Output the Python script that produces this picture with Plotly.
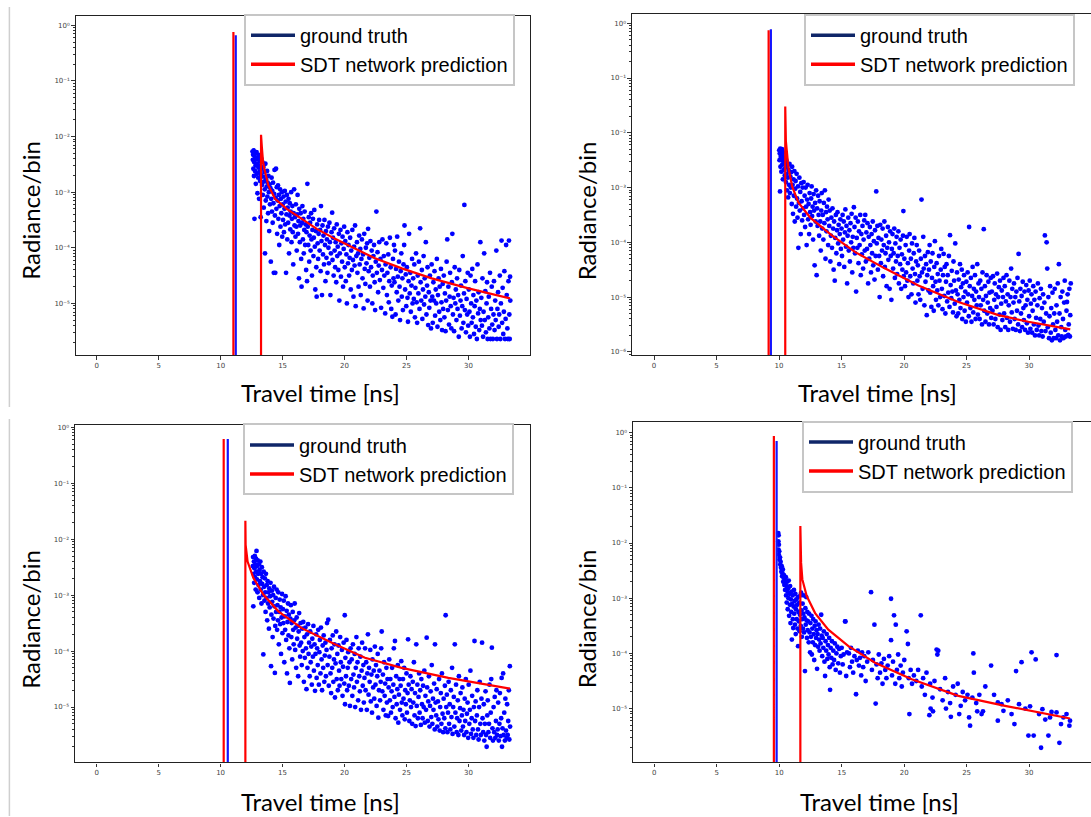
import plotly.graph_objects as go

# ---------------- data: (travel time [ns], log10 of radiance/bin) ----------------
# Panel 1 (top-left)
p1_measured = [
(12.57,-2.27),(12.6,-2.42),(12.62,-2.33),(12.64,-2.58),(12.67,-2.25),(12.69,-2.71),(12.7,-2.46),(12.73,-3.48),(12.75,-2.36),(12.77,-2.62),
(12.8,-2.3),(12.82,-2.52),(12.84,-2.85),(12.87,-2.41),(12.9,-2.28),(12.92,-2.67),(12.95,-2.49),(12.97,-3.02),(13.0,-2.38),(13.03,-2.74),
(13.05,-2.56),(13.08,-2.33),(13.1,-3.12),(13.13,-2.63),(13.15,-2.44),(13.18,-2.8),(13.2,-2.52),(13.23,-3.45),(13.25,-2.69),(13.28,-2.4),
(13.31,-2.58),(13.34,-2.87),(13.37,-2.46),(13.4,-3.05),(13.42,-2.72),(13.45,-2.55),(13.48,-3.28),(13.5,-2.81),(13.53,-2.64),(13.56,-2.95),
(13.58,-4.1),(13.61,-2.49),(13.64,-3.15),(13.66,-2.77),(13.69,-3.52),(13.72,-2.9),(13.75,-2.62),(13.77,-3.08),(13.8,-2.83),(13.83,-3.38),
(13.86,-2.71),(13.89,-3.0),(13.92,-3.7),(13.95,-2.86),(13.98,-3.22),
(14.02,-2.93),(14.05,-4.25),(14.08,-3.12),(14.11,-2.74),(14.14,-3.35),(14.17,-2.98),(14.2,-3.55),(14.23,-2.83),(14.26,-3.2),(14.29,-4.45),
(14.32,-3.03),(14.35,-2.6),(14.38,-3.42),(14.41,-4.45),(14.44,-3.1),(14.47,-2.58),(14.5,-3.3),(14.53,-2.91),(14.56,-3.75),(14.6,-3.15),
(14.63,-2.88),(14.66,-3.48),(14.7,-3.05),(14.73,-3.95),(14.76,-3.25),(14.8,-2.95),(14.83,-3.62),(14.87,-3.12),(14.9,-3.38),(14.94,-3.0),(14.97,-3.8),
(15.01,-3.22),(15.04,-3.5),(15.08,-3.08),(15.11,-3.72),(15.15,-3.3),(15.18,-2.98),(15.21,-3.58),(15.25,-3.17),(15.28,-4.45),(15.31,-3.4),
(15.35,-3.05),(15.38,-3.85),(15.41,-3.28),(15.45,-3.55),(15.48,-3.12),(15.52,-4.1),(15.55,-3.42),(15.58,-3.2),(15.62,-3.67),(15.65,-3.35),
(15.69,-3.0),(15.72,-3.9),(15.75,-3.48),(15.79,-3.25),(15.82,-3.72),(15.86,-4.3),(15.89,-3.38),(15.93,-2.95),(15.96,-3.6),
(16.0,-3.45),(16.04,-3.8),(16.07,-3.22),(16.11,-3.62),(16.14,-4.05),(16.18,-3.4),(16.21,-3.05),(16.25,-3.75),(16.28,-3.52),(16.32,-4.55),
(16.35,-3.3),(16.39,-3.9),(16.42,-3.6),(16.46,-3.38),(16.5,-4.2),(16.53,-4.7),(16.57,-3.55),(16.6,-3.25),(16.64,-3.85),(16.67,-3.48),
(16.71,-4.1),(16.75,-3.68),(16.78,-3.35),(16.82,-3.95),(16.86,-3.58),(16.9,-4.4),(16.93,-3.72),(16.97,-4.6),(17.0,-2.85),
(17.03,-3.62),(17.07,-3.95),(17.11,-3.45),(17.15,-4.25),(17.18,-3.78),(17.22,-3.55),(17.26,-4.05),(17.3,-3.38),(17.33,-3.85),(17.37,-4.5),
(17.41,-3.68),(17.45,-3.48),(17.49,-4.15),(17.52,-3.82),(17.56,-3.32),(17.6,-3.98),(17.64,-4.75),(17.68,-3.7),(17.72,-4.35),(17.75,-4.88),
(17.79,-3.58),(17.83,-3.92),(17.87,-4.2),(17.91,-3.75),(17.95,-3.5),
(17.99,-4.05),(18.03,-3.68),(18.07,-4.42),(18.1,-3.25),(18.14,-3.88),(18.18,-4.85),(18.22,-3.6),(18.26,-4.12),(18.3,-3.78),(18.34,-4.3),
(18.38,-3.5),(18.42,-3.95),(18.46,-4.6),(18.5,-3.7),(18.54,-4.18),(18.58,-3.85),(18.62,-4.45),(18.66,-3.62),(18.7,-4.0),(18.74,-4.28),
(18.78,-3.55),(18.82,-3.9),(18.86,-4.85),(18.9,-4.1),(18.95,-3.72),(19.0,-3.37),
(19.03,-4.22),(19.07,-3.82),(19.12,-4.5),(19.16,-3.65),(19.2,-4.05),(19.24,-4.35),(19.28,-3.9),(19.33,-4.62),(19.37,-3.58),(19.41,-4.15),
(19.45,-3.98),(19.5,-4.4),(19.54,-3.75),(19.58,-4.95),(19.62,-4.1),(19.67,-3.68),(19.71,-4.52),(19.75,-3.92),(19.8,-4.25),(19.84,-3.8),
(19.88,-4.7),(19.93,-4.02),(19.97,-3.62),
(20.02,-4.35),(20.06,-3.88),(20.1,-4.6),(20.15,-4.12),(20.19,-5.0),(20.23,-3.72),(20.28,-4.28),(20.32,-3.95),(20.37,-4.5),(20.41,-4.18),
(20.45,-3.82),(20.5,-4.75),(20.54,-4.05),(20.59,-4.4),(20.63,-3.68),(20.68,-4.22),(20.72,-4.88),(20.77,-3.98),(20.81,-4.32),(20.85,-3.6),
(20.9,-5.05),(20.95,-4.15),
(21.0,-3.9),(21.04,-4.45),(21.09,-4.1),(21.13,-4.7),(21.18,-3.78),(21.22,-4.3),(21.27,-4.02),(21.31,-4.85),(21.36,-4.2),(21.4,-3.85),
(21.45,-4.55),(21.5,-4.12),(21.54,-5.09),(21.59,-3.75),(21.63,-4.38),(21.68,-4.65),(21.72,-4.0),(21.77,-4.28),(21.82,-3.92),(21.86,-4.95),
(21.9,-3.66),(21.95,-4.42),
(22.0,-4.18),(22.05,-4.7),(22.09,-3.88),(22.14,-4.35),(22.19,-4.05),(22.24,-5.0),(22.28,-4.5),(22.33,-4.15),(22.38,-3.95),(22.43,-4.62),
(22.47,-5.12),(22.52,-4.25),(22.57,-3.35),(22.61,-4.45),(22.66,-4.08),(22.71,-4.8),(22.76,-4.32),(22.8,-3.9),(22.85,-4.58),(22.9,-4.2),(22.95,-5.08),
(23.02,-4.4),(23.06,-3.85),(23.13,-4.72),(23.17,-4.15),(23.21,-4.5),(23.28,-5.18),(23.31,-4.3),(23.37,-3.92),(23.42,-4.85),(23.46,-4.45),
(23.53,-4.12),(23.57,-4.98),(23.61,-4.6),(23.66,-3.82),(23.72,-4.35),(23.77,-5.1),(23.81,-4.68),(23.86,-5.24),(23.91,-4.2),(23.95,-4.55),(23.99,-3.95),
(24.03,-4.62),(24.07,-4.05),(24.12,-5.2),(24.16,-4.38),(24.21,-4.8),(24.25,-3.8),(24.3,-4.52),(24.34,-4.95),(24.39,-4.25),(24.44,-4.7),
(24.48,-5.3),(24.53,-4.42),(24.58,-4.1),(24.62,-4.88),(24.67,-4.55),(24.71,-5.12),(24.76,-4.3),(24.81,-3.95),(24.84,-3.6),(24.89,-4.75),
(24.94,-4.48),(24.98,-5.05),
(25.03,-4.35),(25.08,-4.9),(25.12,-5.33),(25.17,-4.6),(25.21,-3.75),(25.26,-4.82),(25.31,-4.45),(25.35,-5.15),(25.4,-4.68),(25.45,-4.2),
(25.49,-5.0),(25.54,-4.55),(25.59,-4.92),(25.63,-4.3),(25.68,-5.25),(25.72,-4.72),(25.77,-4.1),(25.82,-4.98),(25.86,-5.35),(25.91,-4.5),(25.96,-4.82),
(26.0,-4.25),(26.05,-5.1),(26.1,-3.65),(26.14,-4.62),(26.19,-4.95),(26.24,-4.4),(26.28,-5.28),(26.33,-4.75),(26.38,-4.15),(26.42,-5.02),
(26.47,-4.55),(26.52,-4.88),(26.56,-3.9),(26.61,-5.2),(26.66,-4.68),(26.7,-4.35),(26.75,-5.39),(26.8,-4.8),(26.84,-5.08),(26.89,-4.5),
(26.94,-4.95),(26.98,-5.45),
(27.03,-4.3),(27.08,-4.88),(27.12,-5.35),(27.17,-4.62),(27.22,-4.95),(27.26,-4.42),(27.31,-5.22),(27.36,-4.75),(27.4,-5.0),(27.45,-4.2),
(27.5,-5.42),(27.54,-4.85),(27.59,-4.55),(27.64,-5.15),(27.68,-4.7),(27.73,-5.3),(27.78,-4.38),(27.82,-4.98),(27.87,-5.48),(27.92,-4.65),(27.96,-5.1),
(28.01,-4.5),(28.06,-5.25),(28.1,-4.82),(28.15,-5.5),(28.2,-4.95),(28.24,-4.25),(28.29,-3.85),(28.34,-5.12),(28.38,-4.7),(28.43,-5.38),
(28.48,-4.88),(28.52,-4.45),(28.57,-5.05),(28.62,-5.45),(28.66,-4.62),(28.7,-3.75),(28.75,-5.2),(28.8,-4.9),(28.84,-5.5),(28.89,-4.35),
(28.94,-5.0),(28.98,-4.75),
(29.03,-5.3),(29.08,-4.55),(29.12,-5.1),(29.17,-4.85),(29.22,-5.6),(29.26,-4.4),(29.31,-5.22),(29.36,-4.95),(29.4,-4.68),(29.45,-5.45),
(29.5,-5.05),(29.54,-4.15),(29.59,-5.35),(29.64,-4.82),(29.67,-3.23),(29.71,-5.12),(29.75,-4.6),(29.8,-5.52),(29.85,-4.92),(29.9,-5.2),
(29.94,-4.45),(29.98,-5.4),
(30.03,-4.75),(30.08,-5.15),(30.12,-5.6),(30.17,-4.5),(30.22,-5.0),(30.26,-5.35),(30.31,-4.38),(30.36,-5.25),(30.4,-4.85),(30.45,-5.55),
(30.5,-5.05),(30.54,-4.6),(30.59,-5.42),(30.64,-4.95),(30.68,-5.64),(30.73,-4.3),(30.78,-5.18),(30.82,-4.8),(30.87,-5.48),(30.92,-5.1),
(30.96,-3.9),(30.99,-5.3),
(31.04,-4.9),(31.09,-5.4),(31.13,-4.55),(31.18,-5.6),(31.22,-5.15),(31.27,-4.1),(31.32,-5.3),(31.36,-4.78),(31.41,-5.52),(31.46,-5.0),
(31.5,-4.62),(31.55,-5.64),(31.6,-5.25),(31.64,-4.88),(31.69,-5.45),(31.74,-4.45),(31.78,-5.64),(31.83,-5.1),(31.88,-4.7),(31.92,-5.38),(31.97,-5.64),
(32.02,-5.2),(32.06,-4.6),(32.11,-5.48),(32.16,-4.95),(32.2,-5.3),(32.25,-4.05),(32.3,-5.64),(32.34,-5.1),(32.39,-4.8),(32.44,-5.42),
(32.48,-5.2),(32.53,-4.5),(32.58,-5.64),(32.62,-5.0),(32.67,-3.87),(32.72,-5.35),(32.76,-4.72),(32.81,-5.55),(32.86,-5.15),(32.9,-4.42),
(32.95,-5.64),(33.0,-5.28),(33.04,-3.95),(33.09,-4.85),(33.14,-5.45),(33.18,-5.64),(33.23,-4.6),(33.27,-3.87),(33.3,-5.2),(33.33,-5.64),
(33.36,-4.52),(33.38,-4.95),
]
p1_truth_t = [11.22, 11.22]
p1_truth_logr = [-9, -0.18]
p1_pred_t = [11.03, 11.03, 11.03, 13.26, 13.26, 13.33, 13.42, 13.53, 13.85, 14.39, 15.33, 16.55, 17.76, 19.23, 20.85, 22.46, 24.62, 27.04, 30.0, 33.36]
p1_pred_logr = [-9, -0.12, -9, -9, -1.97, -2.2, -2.45, -2.58, -2.88, -3.12, -3.30, -3.48, -3.66, -3.84, -4.01, -4.19, -4.37, -4.55, -4.73, -4.91]

# Panel 2 (top-right)
p2_measured = [
(10.02,-2.32),(10.04,-2.5),(10.06,-2.38),(10.08,-3.07),(10.1,-2.29),(10.12,-2.62),(10.14,-2.44),(10.17,-2.35),(10.19,-2.71),(10.21,-2.48),
(10.24,-2.3),(10.26,-2.58),(10.29,-2.42),(10.31,-2.85),(10.34,-2.52),(10.37,-2.36),(10.4,-2.68),(10.43,-2.47),(10.46,-2.78),(10.49,-2.55),
(10.52,-2.63),(10.55,-2.9),(10.58,-2.5),(10.61,-2.75),(10.64,-3.05),(10.67,-2.6),(10.7,-2.82),(10.73,-3.18),(10.77,-2.68),(10.8,-2.95),
(10.84,-2.57),(10.87,-3.1),(10.91,-2.8),(10.95,-3.0),(10.98,-2.72),
(11.02,-3.3),(11.05,-2.62),(11.09,-2.95),(11.12,-3.48),(11.16,-2.85),(11.19,-3.15),(11.23,-2.7),(11.26,-3.62),(11.3,-3.02),(11.33,-2.88),
(11.37,-3.35),(11.41,-2.75),(11.44,-3.2),(11.48,-3.55),(11.52,-2.98),(11.55,-4.1),(11.59,-3.28),(11.63,-2.82),(11.66,-3.42),(11.7,-3.08),
(11.74,-3.85),(11.78,-2.92),(11.81,-3.25),(11.85,-3.6),(11.89,-3.0),(11.93,-3.38),(11.97,-2.9),
(12.01,-3.5),(12.05,-3.15),(12.09,-3.72),(12.13,-3.0),(12.17,-3.35),(12.21,-4.05),(12.25,-3.22),(12.29,-2.95),(12.33,-3.58),(12.37,-3.3),
(12.41,-3.85),(12.45,-3.1),(12.49,-3.45),(12.53,-3.68),(12.57,-3.2),(12.61,-2.98),(12.65,-3.52),(12.69,-3.35),(12.73,-3.95),(12.77,-3.12),
(12.81,-3.42),(12.85,-4.42),(12.89,-3.28),(12.93,-3.62),(12.97,-3.05),
(13.01,-4.6),(13.05,-3.38),(13.09,-3.7),(13.13,-3.15),(13.17,-3.5),(13.21,-3.88),(13.25,-3.25),(13.3,-3.62),(13.34,-4.15),(13.38,-3.42),
(13.42,-3.1),(13.46,-3.75),(13.5,-3.5),(13.55,-3.95),(13.59,-3.28),(13.63,-3.65),(13.67,-3.05),(13.72,-4.3),(13.76,-3.45),(13.8,-3.8),
(13.84,-3.35),(13.89,-3.58),(13.93,-4.05),(13.97,-3.22),
(14.02,-3.7),(14.06,-3.42),(14.11,-4.35),(14.15,-3.88),(14.19,-3.55),(14.24,-4.1),(14.28,-3.38),(14.33,-3.75),(14.37,-4.5),(14.41,-3.62),
(14.46,-4.7),(14.5,-3.92),(14.55,-3.5),(14.59,-4.2),(14.64,-3.78),(14.68,-3.45),(14.73,-4.02),(14.77,-3.68),(14.82,-4.4),(14.86,-3.85),
(14.91,-3.58),(14.95,-4.12),
(15.0,-3.75),(15.04,-4.25),(15.09,-3.5),(15.13,-3.95),(15.18,-3.62),(15.22,-4.45),(15.27,-3.82),(15.31,-3.4),(15.36,-4.08),(15.4,-3.7),
(15.45,-4.75),(15.49,-3.88),(15.54,-3.55),(15.58,-4.15),(15.63,-3.78),(15.67,-4.35),(15.72,-3.65),(15.77,-4.0),(15.81,-3.48),(15.86,-4.55),
(15.9,-3.9),(15.95,-4.1),(15.99,-3.36),
(16.04,-3.72),(16.08,-4.2),(16.13,-3.55),(16.17,-4.9),(16.22,-3.92),(16.27,-4.1),(16.31,-3.62),(16.36,-4.38),(16.4,-3.8),(16.45,-4.05),
(16.5,-3.5),(16.54,-4.6),(16.59,-3.85),(16.63,-4.22),(16.68,-3.7),(16.73,-4.48),(16.77,-3.95),(16.82,-3.6),(16.86,-4.15),(16.9,-3.5),
(16.95,-4.35),(16.99,-3.82),
(17.04,-4.12),(17.08,-3.65),(17.13,-4.75),(17.18,-3.9),(17.22,-4.3),(17.27,-3.72),(17.31,-4.05),(17.36,-4.55),(17.41,-3.85),(17.45,-4.2),
(17.5,-3.62),(17.54,-4.42),(17.59,-3.98),(17.64,-4.68),(17.68,-3.78),(17.73,-4.25),(17.78,-3.07),(17.82,-4.02),(17.87,-3.7),(17.91,-4.5),(17.96,-3.92),
(18.01,-4.25),(18.05,-5.0),(18.1,-3.68),(18.15,-4.38),(18.19,-3.95),(18.24,-4.15),(18.29,-3.75),(18.33,-4.62),(18.38,-4.05),(18.43,-3.62),
(18.47,-4.45),(18.52,-4.2),(18.57,-3.88),(18.61,-4.8),(18.66,-4.1),(18.71,-3.72),(18.75,-4.32),(18.8,-4.0),(18.85,-4.85),(18.89,-3.8),
(18.94,-4.25),(18.99,-5.05),
(19.03,-4.12),(19.08,-3.85),(19.13,-4.48),(19.17,-4.2),(19.22,-3.75),(19.27,-4.65),(19.31,-4.02),(19.36,-4.35),(19.41,-3.9),(19.45,-4.58),
(19.5,-4.25),(19.55,-3.8),(19.59,-4.75),(19.64,-4.1),(19.69,-4.4),(19.73,-3.95),(19.78,-4.85),(19.83,-4.22),(19.87,-4.5),(19.92,-3.88),
(19.95,-3.43),(19.98,-4.62),
(20.03,-4.3),(20.08,-4.8),(20.13,-4.05),(20.17,-4.55),(20.22,-3.9),(20.27,-4.7),(20.31,-4.38),(20.36,-5.0),(20.41,-4.15),(20.45,-3.85),
(20.5,-4.62),(20.55,-4.3),(20.6,-4.95),(20.64,-4.02),(20.69,-4.48),(20.74,-4.75),(20.78,-4.2),(20.83,-3.92),(20.88,-4.58),(20.92,-5.1),(20.97,-4.35),
(21.02,-4.05),(21.07,-4.7),(21.11,-4.42),(21.16,-4.95),(21.21,-4.15),(21.25,-4.62),(21.3,-5.05),(21.35,-4.3),(21.4,-3.22),(21.44,-4.55),
(21.49,-4.85),(21.54,-3.9),(21.58,-4.48),(21.63,-5.15),(21.68,-4.25),(21.72,-4.72),(21.77,-4.4),(21.82,-5.33),(21.86,-4.6),(21.91,-4.18),(21.96,-4.88),
(22.0,-4.5),(22.05,-4.05),(22.1,-4.92),(22.14,-4.35),(22.19,-5.18),(22.24,-4.65),(22.28,-4.2),(22.33,-4.8),(22.38,-5.25),(22.42,-4.45),
(22.47,-3.98),(22.52,-4.72),(22.56,-5.05),(22.61,-4.38),(22.66,-4.88),(22.7,-4.58),(22.75,-5.15),(22.8,-4.25),(22.84,-4.7),(22.89,-5.0),
(22.94,-4.5),(22.98,-4.12),
(23.03,-4.85),(23.08,-5.22),(23.12,-4.6),(23.17,-4.21),(23.22,-4.98),(23.26,-4.45),(23.31,-5.3),(23.36,-4.72),(23.4,-4.4),(23.45,-5.08),
(23.5,-4.6),(23.54,-4.92),(23.59,-4.25),(23.64,-5.18),(23.68,-3.87),(23.73,-4.78),(23.78,-5.02),(23.82,-4.52),(23.87,-4.9),(23.92,-5.28),(23.96,-4.35),
(24.01,-4.7),(24.06,-5.12),(24.1,-4.02),(24.15,-4.88),(24.2,-5.35),(24.24,-4.55),(24.29,-4.95),(24.34,-5.3),(24.38,-4.68),(24.43,-5.05),
(24.48,-4.4),(24.52,-5.2),(24.57,-4.82),(24.62,-4.5),(24.66,-5.4),(24.71,-4.75),(24.76,-5.0),(24.8,-4.6),(24.85,-5.25),(24.9,-4.9),
(24.95,-5.45),(24.99,-4.72),
(25.04,-5.1),(25.09,-4.55),(25.13,-4.95),(25.18,-5.35),(25.21,-3.72),(25.26,-4.8),(25.31,-5.2),(25.35,-4.65),(25.4,-5.45),(25.45,-4.98),
(25.49,-4.45),(25.54,-5.28),(25.59,-4.85),(25.63,-5.05),(25.68,-4.6),(25.73,-5.4),(25.77,-4.9),(25.82,-5.15),(25.86,-4.4),(25.91,-5.32),(25.96,-4.75),
(26.0,-5.0),(26.05,-5.4),(26.1,-4.7),(26.14,-5.15),(26.19,-4.85),(26.24,-5.5),(26.28,-4.55),(26.33,-5.05),(26.38,-3.76),(26.42,-5.25),
(26.47,-4.8),(26.52,-5.45),(26.56,-4.98),(26.61,-4.6),(26.66,-5.3),(26.7,-5.1),(26.75,-4.72),(26.8,-5.5),(26.84,-4.92),(26.89,-5.2),
(26.94,-4.65),(26.98,-5.38),
(27.03,-4.9),(27.08,-5.25),(27.12,-4.62),(27.17,-5.5),(27.22,-5.05),(27.26,-4.75),(27.31,-5.4),(27.36,-4.95),(27.4,-5.18),(27.45,-4.57),
(27.5,-5.55),(27.54,-5.0),(27.59,-4.82),(27.64,-5.32),(27.68,-4.7),(27.73,-5.6),(27.78,-5.12),(27.82,-4.88),(27.87,-5.42),(27.92,-5.0),(27.96,-4.65),
(28.01,-5.3),(28.06,-4.8),(28.1,-5.55),(28.15,-5.08),(28.2,-4.6),(28.24,-5.38),(28.29,-4.95),(28.34,-5.6),(28.38,-5.15),(28.43,-4.7),
(28.48,-5.45),(28.52,-5.0),(28.57,-4.48),(28.62,-5.28),(28.66,-4.85),(28.71,-5.58),(28.76,-5.1),(28.8,-4.75),(28.85,-5.4),(28.9,-5.0),
(28.94,-5.6),(28.99,-4.9),
(29.04,-5.25),(29.08,-4.65),(29.13,-5.5),(29.17,-4.21),(29.22,-5.08),(29.27,-5.62),(29.31,-4.85),(29.36,-5.3),(29.41,-4.98),(29.45,-5.55),
(29.5,-4.72),(29.55,-5.2),(29.59,-5.42),(29.64,-4.9),(29.69,-5.6),(29.73,-5.15),(29.78,-4.78),(29.83,-5.48),(29.87,-5.05),(29.92,-5.65),(29.97,-4.88),
(30.01,-5.35),(30.06,-4.7),(30.11,-5.58),(30.15,-5.12),(30.2,-4.95),(30.25,-5.65),(30.29,-5.25),(30.34,-4.8),(30.39,-5.5),(30.43,-5.05),
(30.48,-5.7),(30.53,-4.9),(30.57,-5.38),(30.62,-5.6),(30.67,-5.15),(30.71,-4.75),(30.76,-5.52),(30.81,-5.7),(30.85,-5.02),(30.9,-5.4),
(30.95,-4.85),(30.99,-5.62),
(31.04,-5.2),(31.09,-5.72),(31.13,-4.95),(31.18,-5.45),(31.23,-5.1),(31.27,-3.875),(31.32,-5.62),(31.37,-5.3),(31.41,-4.0),(31.46,-4.48),
(31.5,-5.55),(31.55,-5.0),(31.6,-5.75),(31.64,-5.35),(31.69,-4.8),(31.74,-5.65),(31.78,-5.2),(31.83,-5.79),(31.88,-4.92),(31.92,-5.5),(31.97,-5.75),
(32.02,-5.3),(32.06,-4.85),(32.11,-5.6),(32.16,-5.75),(32.2,-5.15),(32.25,-5.45),(32.3,-4.75),(32.34,-5.7),(32.39,-4.4),(32.44,-5.3),
(32.48,-5.79),(32.53,-5.0),(32.58,-5.55),(32.62,-5.72),(32.67,-4.9),(32.72,-5.4),(32.76,-5.75),(32.81,-5.1),(32.86,-4.7),(32.9,-5.6),
(32.95,-5.72),(33.0,-5.25),(33.04,-5.09),(33.09,-4.95),(33.14,-5.69),(33.18,-5.5),(33.23,-4.85),(33.27,-5.72),(33.3,-5.33),(33.34,-4.75),
]
p2_truth_t = [9.35, 9.35]
p2_truth_logr = [-9, -0.11]
p2_pred_t = [9.17, 9.17, 9.17, 10.5, 10.5, 10.55, 10.75, 11.05, 11.55, 12.5, 14.2, 16.1, 18.5, 21.15, 24.35, 27.55, 29.95, 33.3]
p2_pred_logr = [-9, -0.13, -9, -9, -1.52, -2.15, -2.63, -2.98, -3.27, -3.55, -3.87, -4.18, -4.48, -4.79, -5.09, -5.33, -5.45, -5.59]

# Panel 3 (bottom-left)
p3_measured = [
(12.6,-2.48),(12.62,-2.32),(12.64,-3.2),(12.66,-2.62),(12.69,-2.4),(12.71,-2.78),(12.73,-2.52),(12.76,-2.3),(12.78,-2.68),(12.81,-2.45),
(12.83,-2.9),(12.86,-2.35),(12.88,-2.58),(12.9,-2.21),(12.93,-2.72),(12.95,-2.48),(12.98,-2.95),(13.0,-2.38),(13.03,-2.62),(13.06,-2.82),
(13.09,-2.45),(13.12,-3.05),(13.15,-2.55),(13.18,-2.75),(13.21,-2.4),(13.24,-2.9),(13.27,-2.62),(13.3,-3.15),(13.33,-2.5),(13.36,-2.8),
(13.39,-2.68),(13.42,-3.0),(13.45,-4.06),(13.48,-2.58),
(13.51,-2.85),(13.54,-3.1),(13.57,-2.7),(13.6,-2.95),(13.63,-3.3),(13.66,-2.62),(13.7,-3.05),(13.73,-2.82),(13.76,-3.45),(13.8,-2.75),
(13.83,-3.15),(13.86,-2.95),(13.9,-3.6),(13.93,-2.88),(13.96,-3.22),(14.0,-3.02),(14.03,-2.78),(14.07,-4.27),(14.1,-3.35),(14.14,-2.92),
(14.17,-3.12),(14.2,-3.75),(14.24,-3.0),(14.27,-3.42),(14.31,-2.85),(14.34,-3.2),(14.38,-4.39),(14.41,-3.55),(14.45,-3.05),(14.48,-3.3),
(14.52,-2.9),(14.56,-3.62),(14.59,-3.18),(14.63,-3.45),(14.66,-2.95),(14.7,-3.88),(14.74,-3.3),(14.77,-3.08),(14.81,-3.52),(14.85,-3.22),
(14.88,-4.05),(14.92,-3.4),(14.96,-2.98),(14.99,-3.68),(15.03,-3.25),(15.07,-3.5),(15.1,-3.1),(15.14,-4.2),(15.18,-3.38),(15.21,-3.62),
(15.25,-3.02),(15.29,-3.8),(15.33,-3.28),(15.36,-4.4),(15.4,-3.48),(15.44,-3.15),(15.48,-3.72),
(15.51,-3.35),(15.55,-3.95),(15.59,-4.57),(15.63,-3.42),(15.67,-3.18),(15.71,-3.75),(15.74,-3.5),(15.78,-4.15),(15.82,-3.3),(15.86,-3.62),
(15.9,-3.88),(15.94,-3.45),(15.98,-3.15),(16.02,-3.98),(16.06,-3.58),(16.1,-4.3),(16.14,-3.4),(16.18,-3.78),(16.22,-3.55),(16.26,-4.45),
(16.3,-3.65),(16.34,-3.32),(16.38,-3.9),(16.42,-4.1),(16.46,-3.5),
(16.5,-3.85),(16.55,-4.25),(16.59,-3.6),(16.63,-4.0),(16.67,-3.48),(16.72,-4.55),(16.76,-3.75),(16.8,-4.12),(16.84,-3.58),(16.89,-3.95),
(16.93,-4.68),(16.97,-3.7),(17.01,-4.3),(17.06,-3.52),(17.1,-4.05),(17.14,-3.85),(17.19,-4.45),(17.23,-3.65),(17.27,-4.2),(17.32,-3.92),
(17.36,-4.6),(17.4,-3.78),(17.45,-4.1),
(17.49,-3.55),(17.53,-4.35),(17.58,-3.88),(17.62,-4.71),(17.66,-4.05),(17.71,-3.7),(17.75,-4.48),(17.79,-3.95),(17.84,-4.25),(17.88,-3.62),
(17.93,-4.6),(17.97,-4.02),(18.01,-3.8),(18.06,-4.4),(18.1,-3.58),(18.15,-4.15),(18.19,-4.7),(18.24,-3.9),(18.28,-4.3),(18.32,-3.72),
(18.37,-4.55),(18.41,-4.08),(18.46,-3.85),
(18.5,-4.45),(18.55,-3.98),(18.59,-3.5),(18.64,-4.25),(18.69,-3.44),(18.73,-4.62),(18.78,-4.1),(18.82,-3.8),(18.87,-4.4),(18.92,-4.75),
(18.96,-3.95),(19.01,-4.3),(19.05,-3.72),(19.1,-4.55),(19.15,-4.15),(19.19,-3.88),(19.23,-4.83),(19.28,-4.22),(19.33,-3.65),(19.37,-4.5),
(19.42,-4.05),(19.46,-4.7),
(19.51,-3.9),(19.56,-4.35),(19.6,-4.62),(19.65,-3.75),(19.7,-4.2),(19.74,-4.5),(19.79,-3.98),(19.84,-4.8),(19.88,-4.28),(19.93,-3.85),
(19.98,-4.58),(20.02,-3.36),(20.04,-4.95),(20.07,-4.12),(20.12,-4.45),(20.16,-3.8),(20.21,-4.7),(20.26,-4.3),(20.3,-4.02),(20.35,-4.62),
(20.4,-4.2),(20.44,-4.98),(20.49,-3.95),
(20.54,-4.5),(20.58,-4.15),(20.63,-4.8),(20.68,-3.88),(20.72,-4.42),(20.77,-4.65),(20.82,-4.05),(20.86,-5.0),(20.91,-4.3),(20.96,-3.75),
(21.0,-4.55),(21.05,-4.2),(21.1,-4.88),(21.14,-3.95),(21.19,-4.45),(21.24,-4.72),(21.28,-4.1),(21.33,-5.05),(21.38,-4.35),(21.42,-3.85),(21.47,-4.62),
(21.52,-4.25),(21.56,-4.92),(21.61,-4.48),(21.66,-3.95),(21.7,-4.7),(21.75,-4.2),(21.8,-5.05),(21.84,-4.4),(21.89,-3.7),(21.94,-4.78),
(21.98,-4.3),(22.03,-4.55),(22.08,-3.98),(22.12,-4.9),(22.17,-4.42),(22.22,-5.1),(22.26,-4.15),(22.31,-4.65),(22.36,-4.35),(22.4,-4.85),(22.45,-3.92),
(22.5,-4.6),(22.54,-4.25),(22.59,-4.98),(22.64,-4.45),(22.68,-4.05),(22.73,-5.19),(22.78,-4.7),(22.82,-4.35),(22.87,-4.88),(22.92,-4.55),
(22.96,-3.95),(23.0,-3.65),(23.05,-4.72),(23.1,-4.42),(23.14,-5.05),(23.19,-4.2),(23.24,-4.8),(23.28,-4.58),(23.33,-5.15),(23.38,-4.3),
(23.42,-4.92),(23.47,-4.5),
(23.52,-5.16),(23.56,-4.65),(23.61,-4.15),(23.66,-4.88),(23.7,-4.5),(23.75,-5.1),(23.8,-4.72),(23.84,-4.3),(23.89,-5.0),(23.94,-4.6),
(23.98,-3.95),(24.03,-4.82),(24.07,-3.82),(24.12,-5.2),(24.17,-4.45),(24.21,-4.95),(24.26,-4.68),(24.3,-4.25),(24.34,-5.28),(24.39,-4.78),
(24.44,-4.5),(24.48,-5.05),
(24.53,-4.62),(24.58,-4.18),(24.62,-4.92),(24.67,-5.15),(24.72,-4.5),(24.76,-4.85),(24.81,-4.3),(24.86,-5.22),(24.9,-4.7),(24.95,-4.95),
(25.0,-4.4),(25.04,-5.1),(25.09,-4.75),(25.13,-3.79),(25.18,-4.6),(25.23,-5.25),(25.27,-4.88),(25.32,-4.45),(25.37,-5.0),(25.41,-4.68),(25.46,-5.3),
(25.51,-4.55),(25.55,-4.92),(25.6,-4.2),(25.65,-5.15),(25.69,-4.75),(25.74,-5.34),(25.79,-3.88),(25.83,-4.98),(25.88,-4.6),(25.92,-5.2),
(25.97,-4.82),(26.02,-4.4),(26.06,-5.1),(26.11,-4.7),(26.16,-5.32),(26.2,-4.5),(26.25,-4.95),(26.3,-5.2),(26.34,-4.62),(26.39,-5.0),
(26.44,-4.35),(26.48,-5.28),
(26.53,-4.8),(26.58,-5.05),(26.63,-3.76),(26.67,-4.65),(26.72,-5.25),(26.76,-4.9),(26.81,-4.45),(26.86,-5.35),(26.9,-4.98),(26.95,-4.72),
(27.0,-5.18),(27.04,-4.25),(27.09,-5.3),(27.14,-4.85),(27.18,-5.05),(27.23,-4.58),(27.28,-5.4),(27.3,-3.88),(27.35,-4.92),(27.4,-5.15),
(27.44,-4.68),(27.49,-5.35),
(27.54,-4.9),(27.58,-5.22),(27.63,-4.5),(27.68,-5.42),(27.72,-5.0),(27.77,-4.75),(27.82,-5.3),(27.86,-4.4),(27.91,-5.12),(27.96,-5.45),
(28.0,-4.85),(28.05,-5.2),(28.1,-4.62),(28.14,-5.38),(28.16,-3.36),(28.21,-5.0),(28.26,-4.78),(28.3,-5.45),(28.35,-5.1),(28.4,-4.55),
(28.44,-5.3),(28.49,-4.95),
(28.54,-5.4),(28.58,-4.7),(28.63,-5.18),(28.68,-4.3),(28.72,-5.48),(28.77,-5.0),(28.82,-4.82),(28.86,-5.35),(28.9,-3.88),(28.95,-5.1),
(29.0,-4.6),(29.05,-5.45),(29.09,-5.2),(29.14,-4.88),(29.19,-5.5),(29.23,-4.45),(29.28,-5.25),(29.33,-5.02),(29.37,-4.75),(29.42,-5.42),(29.47,-5.15),
(29.51,-4.65),(29.56,-5.35),(29.6,-5.05),(29.65,-5.5),(29.7,-4.85),(29.74,-5.25),(29.79,-4.5),(29.84,-5.45),(29.88,-5.12),(29.93,-4.92),
(29.98,-5.55),(30.02,-4.6),(30.07,-5.3),(30.12,-5.05),(30.16,-4.35),(30.21,-5.48),(30.26,-5.2),(30.3,-4.8),(30.35,-5.4),(30.4,-5.55),
(30.44,-5.0),(30.49,-3.82),
(30.54,-5.25),(30.58,-4.9),(30.63,-5.5),(30.68,-5.15),(30.72,-4.7),(30.77,-5.4),(30.82,-5.58),(30.86,-5.0),(30.91,-4.55),(30.96,-5.3),
(31.0,-5.5),(31.05,-4.85),(31.1,-3.85),(31.14,-5.2),(31.19,-5.45),(31.24,-4.95),(31.28,-5.6),(31.33,-5.3),(31.38,-4.72),(31.42,-5.5),(31.47,-5.71),
(31.52,-5.15),(31.56,-4.88),(31.61,-5.45),(31.66,-5.3),(31.7,-4.6),(31.75,-5.55),(31.8,-5.1),(31.84,-4.5),(31.89,-3.94),(31.94,-5.38),
(31.98,-5.6),(32.03,-5.0),(32.08,-5.45),(32.12,-4.82),(32.17,-5.55),(32.22,-5.25),(32.26,-4.7),(32.31,-5.5),(32.36,-5.4),(32.4,-4.92),(32.45,-5.6),
(32.5,-5.3),(32.54,-4.75),(32.59,-5.52),(32.64,-5.2),(32.68,-4.48),(32.71,-5.71),(32.75,-5.38),(32.8,-4.4),(32.84,-5.5),(32.89,-5.1),
(32.94,-5.6),(32.98,-4.85),(33.03,-5.42),(33.08,-5.55),(33.12,-4.95),(33.17,-5.5),(33.21,-5.25),(33.26,-4.7),(33.3,-5.58),(33.34,-4.27),(33.36,-5.35),
]
p3_truth_t = [10.58, 10.58]
p3_truth_logr = [-9, -0.21]
p3_pred_t = [10.25, 10.25, 10.25, 12.0, 12.0, 12.02, 12.18, 12.64, 13.45, 14.66, 16.54, 19.23, 21.65, 24.61, 28.38, 33.35]
p3_pred_logr = [-9, -0.21, -9, -9, -1.67, -2.1, -2.40, -2.69, -2.99, -3.29, -3.59, -3.88, -4.12, -4.30, -4.48, -4.67]

# Panel 4 (bottom-right)
p4_measured = [
(9.92,-1.82),(9.95,-1.86),(9.93,-1.97),(9.97,-2.03),(9.94,-2.12),(9.96,-2.21),(10.0,-2.15),(10.03,-2.3),(10.06,-2.26),(10.08,-2.39),
(10.11,-2.34),(10.14,-2.45),(10.17,-2.52),(10.2,-2.42),(10.23,-2.6),(10.26,-2.55),(10.29,-2.48),(10.32,-2.7),(10.35,-2.63),(10.38,-2.58),
(10.41,-2.76),(10.44,-2.68),(10.47,-2.85),(10.5,-2.72),
(10.53,-2.62),(10.55,-2.95),(10.58,-2.78),(10.6,-3.08),(10.63,-2.7),(10.66,-2.88),(10.68,-3.2),(10.71,-2.82),(10.74,-3.0),(10.76,-2.68),
(10.79,-3.32),(10.82,-2.92),(10.85,-3.12),(10.87,-2.78),(10.9,-3.45),(10.93,-3.02),(10.96,-3.25),(10.98,-2.88),(11.01,-3.75),(11.04,-3.1),
(11.07,-2.95),(11.09,-3.38),(11.12,-3.54),(11.15,-3.15),(11.18,-2.85),(11.2,-3.28),(11.23,-3.05),(11.26,-3.48),(11.29,-2.92),(11.32,-3.65),
(11.34,-3.2),(11.37,-3.02),(11.4,-3.38),(11.43,-3.12),(11.46,-3.55),(11.49,-2.98),(11.51,-3.87),(11.54,-3.25),(11.57,-3.42),(11.6,-3.08),
(11.63,-3.6),(11.66,-3.3),(11.69,-2.95),(11.72,-3.5),(11.75,-2.9),(11.78,-3.22),(11.81,-3.7),(11.84,-3.38),(11.87,-3.1),(11.9,-3.55),
(11.93,-3.28),(11.96,-2.95),(11.99,-3.62),(12.02,-3.35),(12.06,-4.32),(12.09,-3.18),(12.12,-3.48),(12.16,-2.98),(12.19,-3.4),(12.22,-3.72),
(12.25,-3.25),(12.28,-3.58),
(12.32,-3.42),(12.36,-3.8),(12.39,-3.28),(12.43,-3.62),(12.47,-3.98),(12.5,-3.45),(12.54,-3.7),(12.58,-3.32),(12.61,-4.02),(12.65,-3.55),
(12.69,-3.8),(12.72,-3.38),(12.76,-3.65),(12.8,-4.12),(12.84,-3.5),(12.87,-3.85),(12.91,-3.42),(12.95,-3.72),(12.99,-3.58),(13.03,-4.28),
(13.07,-3.65),(13.11,-3.88),(13.15,-3.48),(13.19,-3.75),(13.23,-3.95),(13.27,-3.55),(13.31,-3.82),(13.36,-3.3),(13.4,-3.68),(13.44,-4.05),
(13.48,-3.72),(13.53,-3.9),(13.57,-3.6),(13.62,-4.15),(13.67,-4.41),(13.71,-3.78),(13.76,-3.95),(13.8,-3.65),(13.85,-4.1),(13.9,-3.85),
(13.95,-4.02),(14.0,-3.72),(14.04,-4.25),(14.07,-4.66),(14.12,-3.9),(14.17,-4.08),(14.22,-3.78),(14.27,-4.2),(14.33,-3.95),(14.39,-4.12),
(14.45,-3.82),(14.52,-4.3),(14.58,-4.0),(14.65,-3.88),(14.72,-4.18),(14.79,-3.92),(14.86,-4.35),(14.93,-4.05),(15.0,-3.9),(15.08,-4.2),
(15.15,-4.02),(15.27,-3.42),(15.3,-3.42),(15.36,-4.41),(15.43,-3.98),
(15.58,-4.0),(15.66,-4.25),(15.74,-3.9),(15.83,-4.15),(15.92,-4.35),(16.02,-4.05),(16.15,-4.74),(16.21,-4.12),(16.29,-3.95),(16.38,-4.22),
(16.47,-4.08),(16.56,-4.4),(16.63,-3.98),(16.72,-4.25),(16.81,-4.05),(16.92,-4.5),(17.04,-4.15),(17.13,-3.98),(17.35,-2.89),(17.42,-4.3),
(17.5,-4.12),(17.62,-3.48),(17.72,-4.91),(17.79,-4.2),(17.88,-4.45),(17.97,-4.02),(18.07,-4.35),(18.18,-4.18),(18.27,-4.55),(18.38,-4.1),
(18.49,-4.3),(18.58,-4.45),(18.68,-4.22),(18.8,-4.05),(18.95,-3.01),(18.95,-3.76),(19.03,-4.4),(19.11,-4.15),(19.19,-3.31),(19.33,-3.48),
(19.29,-4.55),(19.42,-4.3),(19.52,-4.02),(19.61,-4.45),(19.72,-4.22),(19.81,-4.6),(19.9,-4.35),(20.01,-4.12),(20.2,-3.6),(20.3,-3.83),
(20.37,-4.45),(20.42,-5.1),(20.52,-4.3),(20.63,-4.55),(20.78,-4.4),
(20.97,-4.5),(21.12,-4.3),(21.33,-3.31),(21.41,-4.6),(21.52,-4.45),(21.66,-4.75),(21.79,-4.35),(22.02,-5.12),(22.08,-4.55),(22.12,-5.0),
(22.27,-4.8),(22.31,-5.05),(22.43,-4.5),(22.6,-3.93),(22.66,-4.02),(22.73,-3.95),(22.88,-4.65),(23.08,-4.85),(23.28,-4.45),(23.35,-5.0),
(23.51,-4.7),(23.68,-4.9),(23.74,-5.15),(23.92,-4.6),(24.12,-4.75),(24.29,-4.55),(24.41,-5.1),(24.53,-4.95),(24.69,-4.7),(24.88,-4.85),
(25.07,-4.75),(25.2,-5.16),(25.28,-5.31),(25.46,-4.8),(25.54,-4.0),(25.58,-4.35),(25.77,-4.9),(25.85,-5.05),(26.02,-4.75),(26.31,-5.05),
(26.2,-5.1),(26.5,-4.6),(26.96,-4.22),(27.2,-4.75),(27.5,-4.89),(27.5,-5.22),(27.8,-4.92),(27.95,-5.04),(28.3,-4.85),(28.6,-5.1),
(28.83,-5.28),(28.96,-4.32),(29.2,-4.92),(29.4,-4.16),(29.7,-5.0),(29.95,-5.49),(30.08,-4.96),(30.2,-3.98),(30.37,-5.49),(30.53,-4.11),
(30.8,-5.1),(30.96,-5.71),(31.07,-5.01),(31.3,-5.2),(31.55,-5.49),(31.68,-5.16),(31.8,-5.06),(32.2,-4.03),(32.2,-5.07),(32.43,-5.62),
(32.56,-5.28),(32.75,-5.16),(33.0,-5.1),(33.23,-5.31),(33.28,-5.22),
]
p4_truth_t = [9.79, 9.79]
p4_truth_logr = [-9, -0.15]
p4_pred_t = [9.57, 9.57, 9.57, 11.69, 11.69, 11.72, 11.75, 11.85, 12.2, 12.87, 13.93, 15.54, 17.67, 20.61, 24.34, 28.08, 30.75, 33.28]
p4_pred_logr = [-9, -0.06, -9, -9, -1.69, -2.05, -2.36, -2.66, -2.96, -3.27, -3.57, -3.87, -4.17, -4.47, -4.77, -4.95, -5.07, -5.18]

x_tick_values = [0, 5, 10, 15, 20, 25, 30]
y_tick_exponents = [0, -1, -2, -3, -4, -5, -6]
y_tick_labels = ["10⁰", "10⁻¹", "10⁻²", "10⁻³", "10⁻⁴", "10⁻⁵", "10⁻⁶"]
legend_names = ["ground truth", "SDT network prediction"]

# ---------------- layout geometry (pixels of the 1091x817 canvas) ----------------
W, H = 1091, 817
panels = [
    dict(meas=p1_measured, tt=p1_truth_t, tl=p1_truth_logr, pt=p1_pred_t, pl=p1_pred_logr,
         px=(75.8, 530.4), py=(15.0, 355.0), xr=(-1.69, 35.0), yr=(-5.93, 0.167), mirror_y=True,
         ylab=(30.3, 210), xlab=(320, 392), leg=(244, 48.8)),
    dict(meas=p2_measured, tt=p2_truth_t, tl=p2_truth_logr, pt=p2_pred_t, pl=p2_pred_logr,
         px=(632.0, 1091.0), py=(13.3, 355.0), xr=(-1.76, 34.96), yr=(-6.06, 0.164), mirror_y=False,
         ylab=(586.8, 210), xlab=(878, 392), leg=(804, 48.8)),
    dict(meas=p3_measured, tt=p3_truth_t, tl=p3_truth_logr, pt=p3_pred_t, pl=p3_pred_logr,
         px=(75.1, 530.4), py=(425.0, 763.3), xr=(-1.74, 35.0), yr=(-5.99, 0.041), mirror_y=True,
         ylab=(30.3, 620), xlab=(320, 802), leg=(243, 459.5)),
    dict(meas=p4_measured, tt=p4_truth_t, tl=p4_truth_logr, pt=p4_pred_t, pl=p4_pred_logr,
         px=(633.1, 1091.0), py=(421.7, 763.3), xr=(-1.70, 34.96), yr=(-5.976, 0.199), mirror_y=False,
         ylab=(586.8, 619), xlab=(879, 802), leg=(802, 456.7)),
]

fig = go.Figure()
annotations = []
minor_vals = [m * 10.0 ** e for e in range(-7, 1) for m in range(2, 10)]

for i, p in enumerate(panels):
    n = "" if i == 0 else str(i + 1)
    xa, ya = "x" + n, "y" + n
    leg = "legend" + n
    t = [a for a, b in p["meas"]]
    r = [10.0 ** b for a, b in p["meas"]]
    fig.add_trace(go.Scatter(x=t, y=r, mode="markers", xaxis=xa, yaxis=ya, showlegend=False,
                             marker=dict(color="#0000ff", size=4.8, line=dict(width=0)), hoverinfo="skip"))
    fig.add_trace(go.Scatter(x=p["tt"], y=[10.0 ** v for v in p["tl"]], mode="lines", xaxis=xa, yaxis=ya,
                             showlegend=False, line=dict(color="#1414ff", width=2.2)))
    fig.add_trace(go.Scatter(x=p["pt"], y=[10.0 ** v for v in p["pl"]], mode="lines", xaxis=xa, yaxis=ya,
                             showlegend=False, line=dict(color="#ff0000", width=2.2)))
    # legend entries
    fig.add_trace(go.Scatter(x=[None], y=[None], mode="lines", xaxis=xa, yaxis=ya, name=legend_names[0],
                             legend=leg, showlegend=True, line=dict(color="#0f2668", width=3.5)))
    fig.add_trace(go.Scatter(x=[None], y=[None], mode="lines", xaxis=xa, yaxis=ya, name=legend_names[1],
                             legend=leg, showlegend=True, line=dict(color="#ff0000", width=3.5)))

    lo, hi = p["yr"]
    tv = [10.0 ** e for e in y_tick_exponents if lo <= e <= hi]
    tt = [lab for e, lab in zip(y_tick_exponents, y_tick_labels) if lo <= e <= hi]
    fig.update_layout(**{
        "xaxis" + n: dict(domain=[p["px"][0] / W, p["px"][1] / W], range=list(p["xr"]), anchor=ya,
                          tickvals=x_tick_values, ticks="outside", ticklen=3.5, tickwidth=0.8, tickcolor="#333",
                          tickfont=dict(family="DejaVu Sans", size=7, color="#444"),
                          showline=True, linecolor="#222", linewidth=1.2, mirror=True,
                          showgrid=False, zeroline=False),
        "yaxis" + n: dict(domain=[1 - p["py"][1] / H, 1 - p["py"][0] / H], type="log", range=[lo, hi], anchor=xa,
                          tickvals=tv, ticktext=tt, ticks="outside", ticklen=3.5, tickwidth=0.8, tickcolor="#333",
                          tickfont=dict(family="DejaVu Sans", size=7, color="#444"),
                          minor=dict(tickvals=minor_vals, ticks="outside", ticklen=2, tickwidth=0.6, tickcolor="#333"),
                          showline=True, linecolor="#222", linewidth=1.2, mirror=p["mirror_y"],
                          showgrid=False, zeroline=False),
        leg: dict(x=p["leg"][0] / W, y=1 - p["leg"][1] / H, xanchor="left", yanchor="middle",
                  bgcolor="white", bordercolor="#c6c6c6", borderwidth=2, itemwidth=44,
                  font=dict(family="Arial, Liberation Sans, sans-serif", size=20, color="black")),
    })
    annotations.append(dict(text="Radiance/bin", x=p["ylab"][0] / W, y=1 - p["ylab"][1] / H, xref="paper", yref="paper",
                            showarrow=False, textangle=-90, xanchor="center", yanchor="middle",
                            font=dict(family="Lato, Open Sans, sans-serif", size=24, color="black")))
    annotations.append(dict(text="Travel time [ns]", x=p["xlab"][0] / W, y=1 - p["xlab"][1] / H, xref="paper", yref="paper",
                            showarrow=False, xanchor="center", yanchor="middle",
                            font=dict(family="Lato, Open Sans, sans-serif", size=24, color="black")))

shapes = [
    dict(type="line", xref="paper", yref="paper", x0=9.4 / W, x1=9.4 / W, y0=1 - 6 / H, y1=1 - 407 / H,
         line=dict(color="#cfcfcf", width=1.5)),
    dict(type="line", xref="paper", yref="paper", x0=9.4 / W, x1=9.4 / W, y0=1 - 419 / H, y1=0,
         line=dict(color="#cfcfcf", width=1.5)),
]

fig.update_layout(width=W, height=H, margin=dict(l=0, r=0, t=0, b=0), paper_bgcolor="white",
                  plot_bgcolor="white", annotations=annotations, shapes=shapes, hovermode=False)

fig.write_html("out.html")
